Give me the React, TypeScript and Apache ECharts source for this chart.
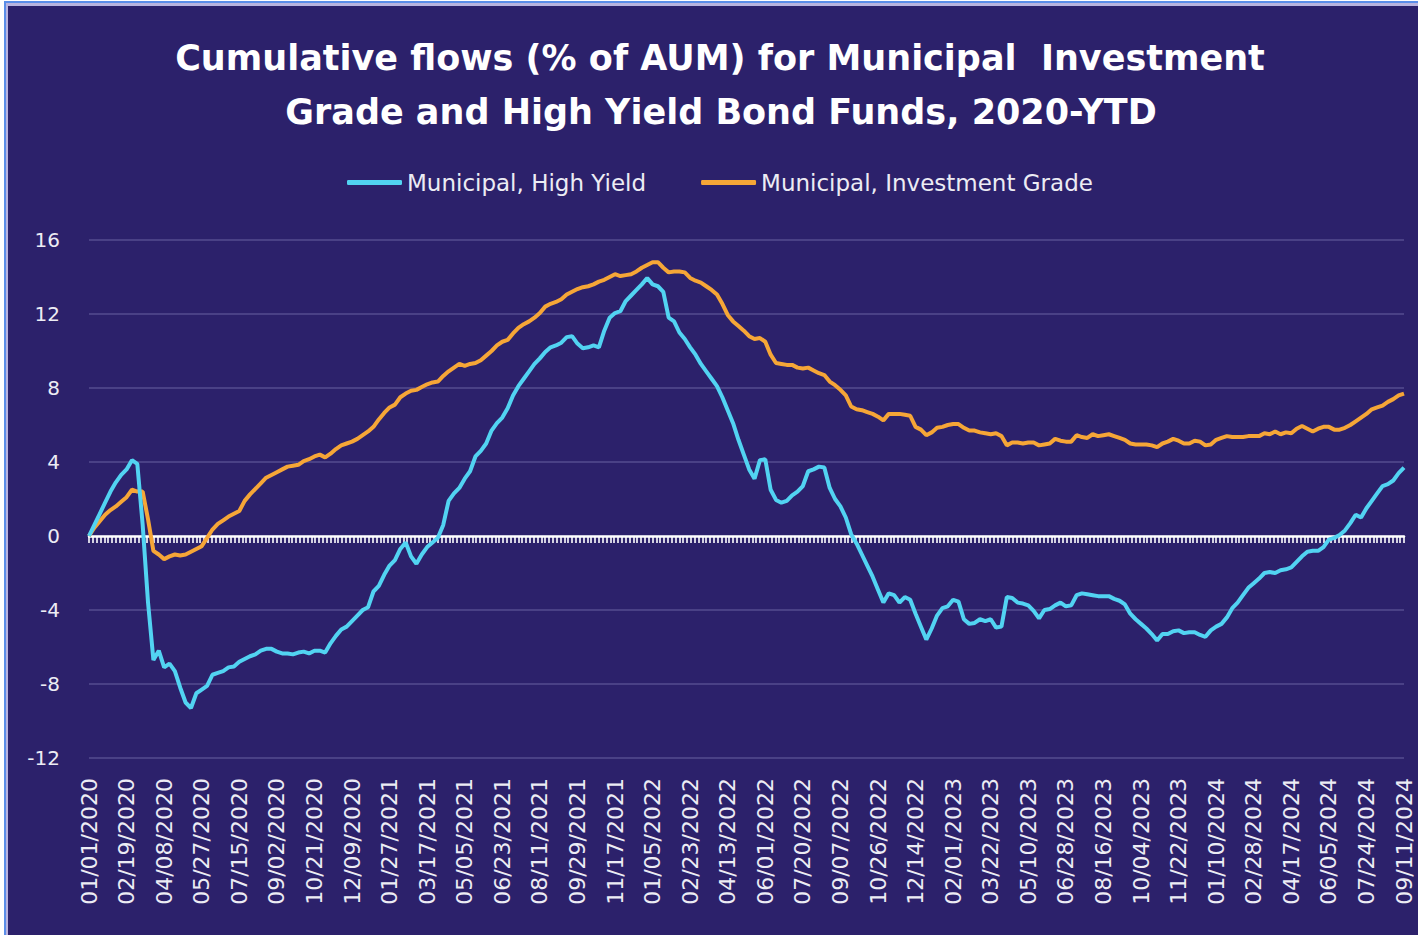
import React, { useEffect, useRef } from "react";
import * as echarts from "echarts";

const TITLE_LINES = [
  "Cumulative flows (% of AUM) for Municipal  Investment",
  "Grade and High Yield Bond Funds, 2020-YTD",
];
const SERIES_NAMES = ["Municipal, High Yield", "Municipal, Investment Grade"];
const START_DATE = [2020, 0, 1];
const Y_TICKS = [-12, -8, -4, 0, 4, 8, 12, 16];

// Weekly cumulative flows (% of AUM), 01/01/2020 .. 09/11/2024
const highYield = [
  0, 0.6, 1.2, 1.8, 2.4, 2.9, 3.3, 3.6, 4.1, 3.9,
  0.6, -3.6, -6.7, -6.2, -7.1, -6.9, -7.3, -8.2, -9.0, -9.3,
  -8.5, -8.3, -8.1, -7.5, -7.4, -7.3, -7.1, -7.05, -6.8, -6.65,
  -6.5, -6.4, -6.2, -6.1, -6.1, -6.25, -6.35, -6.35, -6.4, -6.3,
  -6.25, -6.35, -6.2, -6.2, -6.3, -5.8, -5.4, -5.05, -4.9, -4.6,
  -4.3, -4.0, -3.85, -3.0, -2.7, -2.1, -1.6, -1.3, -0.7, -0.35,
  -1.1, -1.5, -1.0, -0.6, -0.35, -0.1, 0.6, 1.9, 2.3, 2.6,
  3.1, 3.5, 4.3, 4.6, 5.0, 5.7, 6.1, 6.4, 6.9, 7.6,
  8.1, 8.5, 8.9, 9.3, 9.6, 9.95, 10.2, 10.3, 10.45, 10.75,
  10.8, 10.4, 10.15, 10.2, 10.3, 10.2, 11.1, 11.8, 12.05, 12.15,
  12.7, 13.0, 13.3, 13.6, 13.95, 13.6, 13.5, 13.2, 11.8, 11.6,
  11.0, 10.65, 10.2, 9.8, 9.3, 8.9, 8.5, 8.1, 7.5, 6.8,
  6.1, 5.2, 4.4, 3.6, 3.1, 4.1, 4.15, 2.5, 1.95, 1.8,
  1.9, 2.2, 2.4, 2.7, 3.5, 3.6, 3.75, 3.7, 2.6, 2.0,
  1.6, 1.0, 0.1, -0.4, -1.0, -1.6, -2.2, -2.9, -3.6, -3.1,
  -3.2, -3.6, -3.3, -3.45, -4.2, -4.9, -5.6, -5.0, -4.3, -3.9,
  -3.8, -3.45, -3.55, -4.5, -4.75, -4.7, -4.5, -4.6, -4.5, -4.95,
  -4.9, -3.3, -3.35, -3.6, -3.65, -3.75, -4.05, -4.45, -4.0, -3.95,
  -3.75, -3.6, -3.8, -3.75, -3.2, -3.1, -3.15, -3.2, -3.25, -3.25,
  -3.25, -3.4, -3.5, -3.7, -4.2, -4.5, -4.75, -5.0, -5.3, -5.65,
  -5.3, -5.3, -5.15, -5.1, -5.25, -5.2, -5.2, -5.35, -5.45, -5.1,
  -4.9, -4.75, -4.4, -3.9, -3.6, -3.2, -2.8, -2.55, -2.3, -2.0,
  -1.95, -2.0, -1.85, -1.8, -1.7, -1.4, -1.1, -0.85, -0.8, -0.8,
  -0.6, -0.2, -0.1, 0.05, 0.3, 0.7, 1.15, 1.0, 1.5, 1.9,
  2.3, 2.7, 2.8, 3.0, 3.4, 3.7,
];

const investmentGrade = [
  0, 0.45, 0.8, 1.15, 1.4, 1.6, 1.85, 2.1, 2.5, 2.4,
  2.4, 0.9, -0.8, -1.0, -1.25, -1.1, -1.0, -1.05, -1.0, -0.85,
  -0.7, -0.55, -0.1, 0.35, 0.65, 0.85, 1.05, 1.2, 1.35, 1.9,
  2.25, 2.55, 2.85, 3.15, 3.3, 3.45, 3.6, 3.75, 3.8, 3.85,
  4.05, 4.15, 4.3, 4.4, 4.25, 4.45, 4.7, 4.9, 5.0, 5.1,
  5.25, 5.45, 5.65, 5.9, 6.3, 6.65, 6.95, 7.1, 7.5, 7.7,
  7.85, 7.9, 8.05, 8.2, 8.3, 8.35, 8.65, 8.9, 9.1, 9.3,
  9.2, 9.3, 9.35, 9.5, 9.75, 10.0, 10.3, 10.5, 10.6, 10.95,
  11.25, 11.45, 11.6, 11.8, 12.05, 12.4, 12.55, 12.65, 12.8, 13.05,
  13.2, 13.35, 13.45, 13.5, 13.6, 13.75, 13.85, 14.0, 14.15, 14.05,
  14.1, 14.15, 14.3, 14.5, 14.65, 14.8, 14.8, 14.5, 14.25, 14.3,
  14.3, 14.25, 13.95, 13.8, 13.7, 13.5, 13.3, 13.05, 12.55, 11.95,
  11.6, 11.35, 11.1, 10.8, 10.65, 10.7, 10.5, 9.8, 9.35, 9.3,
  9.25, 9.25, 9.1, 9.05, 9.1, 8.95, 8.8, 8.7, 8.35, 8.15,
  7.9, 7.6, 7.0, 6.85, 6.8, 6.7, 6.6, 6.45, 6.25, 6.6,
  6.6, 6.6, 6.55, 6.5, 5.9, 5.75, 5.45, 5.6, 5.85, 5.9,
  6.0, 6.05, 6.05, 5.85, 5.7, 5.7, 5.6, 5.55, 5.5, 5.55,
  5.4, 4.9, 5.05, 5.05, 5.0, 5.05, 5.05, 4.9, 4.95, 5.0,
  5.25, 5.15, 5.1, 5.1, 5.45, 5.35, 5.3, 5.5, 5.4, 5.45,
  5.5, 5.4, 5.3, 5.2, 5.0, 4.95, 4.95, 4.95, 4.9, 4.8,
  5.0, 5.1, 5.25, 5.15, 5.0, 5.0, 5.15, 5.1, 4.9, 4.95,
  5.2, 5.3, 5.4, 5.35, 5.35, 5.35, 5.4, 5.4, 5.4, 5.55,
  5.5, 5.65, 5.5, 5.6, 5.55, 5.8, 5.95, 5.8, 5.65, 5.8,
  5.9, 5.9, 5.75, 5.75, 5.85, 6.0, 6.2, 6.4, 6.6, 6.85,
  6.95, 7.05, 7.25, 7.4, 7.6, 7.7,
];

function weeklyDates(count: number): string[] {
  const out: string[] = [];
  const start = Date.UTC(START_DATE[0], START_DATE[1], START_DATE[2]);
  for (let i = 0; i < count; i++) {
    const d = new Date(start + i * 7 * 86400000);
    const mm = String(d.getUTCMonth() + 1).padStart(2, "0");
    const dd = String(d.getUTCDate()).padStart(2, "0");
    out.push(`${mm}/${dd}/${d.getUTCFullYear()}`);
  }
  return out;
}

const categories = weeklyDates(highYield.length);
const totalDays = (categories.length - 1) * 7;

const BG = "#2c216b";
const FONT = "'DejaVu Sans', 'Open Sans', sans-serif";

export default function App() {
  const ref = useRef<HTMLDivElement>(null);

  useEffect(() => {
    document.body.style.margin = "0";
    const chart = echarts.init(ref.current!, null, { renderer: "svg" });
    chart.setOption({
      animation: false,
      backgroundColor: BG,
      graphic: [
        { type: "rect", shape: { x: 0, y: 0, width: 1418, height: 1 }, style: { fill: "#ffffff" }, z: 100 },
        { type: "rect", shape: { x: 0, y: 0, width: 4, height: 935 }, style: { fill: "#ffffff" }, z: 100 },
        { type: "rect", shape: { x: 4, y: 1, width: 1414, height: 2 }, style: { fill: "#5b8ee8" }, z: 100 },
        { type: "rect", shape: { x: 4, y: 1, width: 2, height: 934 }, style: { fill: "#5b8ee8" }, z: 100 },
        { type: "rect", shape: { x: 6, y: 3, width: 1412, height: 3 }, style: { fill: "#b9b4df" }, z: 100 },
        { type: "rect", shape: { x: 6, y: 3, width: 2, height: 932 }, style: { fill: "#b9b4df" }, z: 100 },
        {
          type: "text",
          x: 720,
          y: 58,
          style: {
            text: TITLE_LINES[0],
            fill: "#ffffff",
            font: `bold 35px ${FONT}`,
            textAlign: "center",
            textVerticalAlign: "middle",
          },
        },
        {
          type: "text",
          x: 721,
          y: 112,
          style: {
            text: TITLE_LINES[1],
            fill: "#ffffff",
            font: `bold 35px ${FONT}`,
            textAlign: "center",
            textVerticalAlign: "middle",
          },
        },
      ],
      legend: {
        left: 342,
        top: 166,
        itemWidth: 55,
        itemHeight: 5,
        itemGap: 55,
        icon: "roundRect",
        textStyle: { color: "#ececf4", fontSize: 23, fontFamily: FONT },
        data: SERIES_NAMES,
      },
      grid: { left: 89, right: 14, top: 240, bottom: 177 },
      xAxis: [
        {
          type: "category",
          data: categories,
          boundaryGap: false,
          position: "bottom",
          axisLine: { show: false, onZero: false },
          axisTick: { show: false },
          splitLine: { show: false },
          axisLabel: {
            interval: 6,
            rotate: 90,
            margin: 20,
            color: "#ececf4",
            fontSize: 22,
            fontFamily: FONT,
          },
        },
        {
          type: "value",
          min: 0,
          max: totalDays,
          interval: 5,
          position: "bottom",
          axisLine: { show: true, onZero: true, lineStyle: { color: "#ffffff", width: 2.5 } },
          axisTick: { show: true, length: 7, lineStyle: { color: "#ffffff", width: 1.6 } },
          axisLabel: { show: false },
          splitLine: { show: false },
        },
      ],
      yAxis: {
        type: "value",
        min: Y_TICKS[0],
        max: Y_TICKS[Y_TICKS.length - 1],
        interval: 4,
        axisLine: { show: false },
        axisTick: { show: false },
        axisLabel: { color: "#ececf4", fontSize: 20, fontFamily: FONT, margin: 29 },
        splitLine: { lineStyle: { color: "#554d8f", width: 1.5 } },
      },
      series: [
        {
          name: SERIES_NAMES[0],
          type: "line",
          data: highYield,
          xAxisIndex: 0,
          symbol: "none",
          lineStyle: { color: "#52d3f2", width: 4 },
          itemStyle: { color: "#52d3f2" },
          z: 3,
        },
        {
          name: SERIES_NAMES[1],
          type: "line",
          data: investmentGrade,
          xAxisIndex: 0,
          symbol: "none",
          lineStyle: { color: "#f6a637", width: 4 },
          itemStyle: { color: "#f6a637" },
          z: 2,
        },
      ],
    });
    return () => chart.dispose();
  }, []);

  return (
    <div
      ref={ref}
      style={{ position: "absolute", left: 0, top: 0, width: 1418, height: 935 }}
    />
  );
}
